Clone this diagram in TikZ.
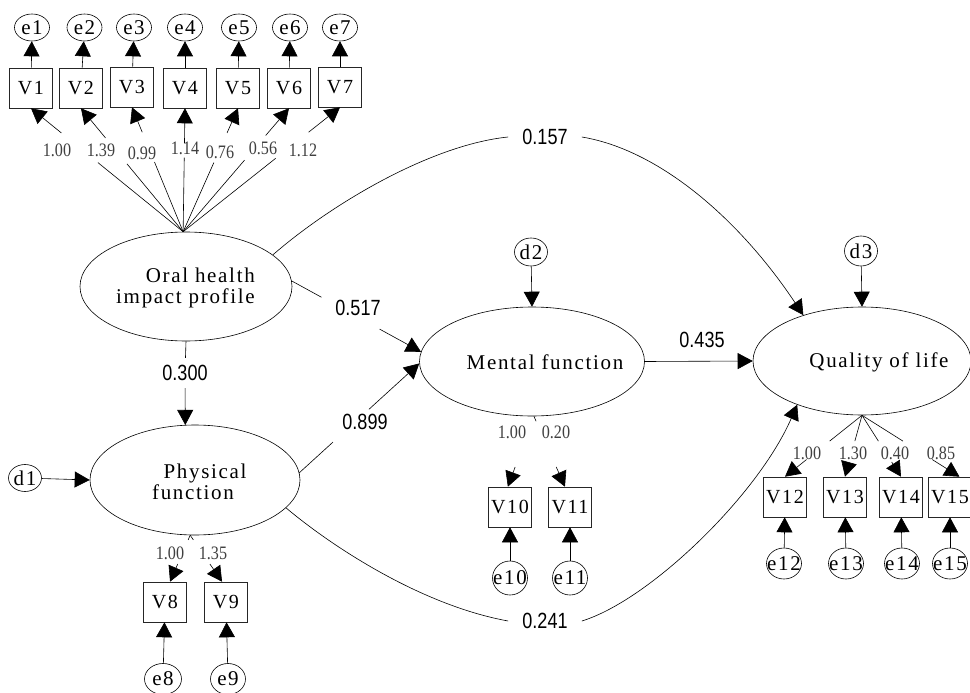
\documentclass[tikz,border=0pt]{standalone}
\usepackage{fontspec}
\setmainfont{Liberation Serif}[LetterSpace=8]
\newfontfamily\numfont{Liberation Sans}[FakeStretch=0.82]
\newfontfamily\loadfont{Liberation Serif}[FakeStretch=0.85]
\usetikzlibrary{shapes.geometric,arrows.meta,calc}
\begin{document}
\begin{tikzpicture}[x=1pt,y=-1pt,line width=0.6pt,
  arr/.style={-{Triangle[length=15pt,width=16pt]}},
  lat/.style={draw, ellipse, inner sep=0pt},
  txt/.style={font=\fontsize{21}{21}\selectfont, inner sep=0pt},
  err/.style={draw, ellipse, minimum width=35pt, minimum height=27pt, inner sep=0pt, font=\fontsize{21}{21}\selectfont},
  errb/.style={err, minimum width=35pt, minimum height=31pt},
  obs/.style={draw=black!85, rectangle, minimum width=43pt, minimum height=40pt, inner sep=0pt, font=\fontsize{20}{20}\selectfont},
  coef/.style={font=\numfont\fontsize{22}{22}\selectfont, inner sep=7pt},
  ld/.style={font=\loadfont\fontsize{19}{19}\selectfont, text=black!75, inner sep=1pt}]
\useasboundingbox (0,0) rectangle (970,693);

% ---------- latent variables ----------
\node[lat, minimum width=212pt, minimum height=109pt] (ohip) at (186,286.5) {};
\node[txt, align=right] (ohiptxt) at (185.5,288) {Oral health\\impact profile};
\node[lat, minimum width=210pt, minimum height=110pt] (phys) at (195,480) {};
\node[txt, align=center] (phystxt) at (193,482) {\hspace*{24pt}Physical\\function};
\node[lat, minimum width=225pt, minimum height=109pt] (ment) at (532,361.5) {};
\node[txt] (menttxt) at (545,362) {Mental function};
\node[lat, minimum width=218pt, minimum height=108pt] (qol) at (862,361) {};
\node[txt] (qoltxt) at (879,362) {Quality of life};

% ---------- disturbances ----------
\node[err, minimum width=33pt] (d1) at (25,478) {\makebox[0pt]{d1}};
\node[err, minimum width=33pt, minimum height=28pt] (d2) at (531,252) {\makebox[0pt]{d2}};
\node[err, minimum width=33pt, minimum height=30pt] (d3) at (861,251) {\makebox[0pt]{d3}};
\draw[arr] (d1) -- (phys.west);
\draw[arr] (d2) -- (ment.north);
\draw[arr] (d3) -- (qol.north);

% ---------- OHIP indicators ----------
\foreach \i/\x/\ex/\vy in {1/31/32/88, 2/81/84.5/88, 3/132/134/87, 4/185/185/88, 5/238/239/88, 6/289/290/88, 7/340/340/87} {
  \node[obs] (V\i) at (\x,\vy) {V\i};
  \node[err] (e\i) at (\ex,27.5) {\makebox[0pt]{e\i}};
  \draw[arr] (V\i) -- (e\i);
}
\foreach \i/\a/\b/\lx/\ly/\val in {1/0.56/0.80/57/150/1.00, 2/0.55/0.76/101/150/1.39, 3/0.56/0.80/142/153/0.99, 4/0.60/0.72/185/148/1.14, 5/0.56/0.80/220/152/0.76, 6/0.58/0.78/263/148/0.56, 7/0.59/0.80/303/150/1.12} {
  \draw (ohip.93) -- ($(ohip.93)!\a!(V\i.south)$);
  \draw[arr] ($(ohip.93)!\b!(V\i.south)$) -- (V\i.south);
  \node[ld] (l\i) at (\lx,\ly) {\val};
}

% ---------- Physical function indicators ----------
\node[obs] (V8) at (165,602) {V8};
\node[obs] (V9) at (226,602) {V9};
\node[errb, minimum width=37pt] (e8) at (163,679) {\makebox[0pt]{e8}};
\node[errb] (e9) at (228,679) {\makebox[0pt]{e9}};
\draw[arr] (e8) -- (V8);
\draw[arr] (e9) -- (V9);
\draw (phys.265) -- ($(phys.265)!0.1!(V8.76)$);
\draw[arr] ($(phys.265)!0.62!(V8.76)$) -- (V8.76);
\draw (phys.265) -- ($(phys.265)!0.1!(V9.101)$);
\draw[arr] ($(phys.265)!0.62!(V9.101)$) -- (V9.101);
\node[ld] (l8) at (170,553) {1.00};
\node[ld] (l9) at (213,553) {1.35};

% ---------- Mental function indicators ----------
\node[obs] (V10) at (510,507) {V10};
\node[obs] (V11) at (570,507) {V11};
\node[errb, minimum height=34pt] (e10) at (510,578) {\makebox[0pt]{e10}};
\node[errb, minimum height=34pt] (e11) at (570,578) {\makebox[0pt]{e11}};
\draw[arr] (e10) -- (V10);
\draw[arr] (e11) -- (V11);
\draw (ment.272) -- ($(ment.272)!0.07!(V11.104)$);
\draw[arr] ($(ment.272)!0.72!(V10.96)$) -- (V10.96);
\draw[arr] ($(ment.272)!0.72!(V11.104)$) -- (V11.104);
\node[ld] (l10) at (512,432) {1.00};
\node[ld] (l11) at (556,432) {0.20};

% ---------- Quality of life indicators ----------
\foreach \i/\x/\ex in {12/785/784, 13/845/846, 14/901/902, 15/950/950} {
  \node[obs] (V\i) at (\x,497) {V\i};
  \node[errb] (e\i) at (\ex,563.5) {\makebox[0pt]{e\i}};
  \draw[arr] (e\i) -- (V\i);
}
\foreach \i/\t/\b/\lx/\val in {12/north/0.72/807/1.00, 13/north/0.76/853/1.30, 14/north/0.76/895/0.40, 15/65/0.72/941/0.85} {
  \draw (qol.south) -- ($(qol.south)!0.42!(V\i.\t)$);
  \draw[arr] ($(qol.south)!\b!(V\i.\t)$) -- (V\i.\t);
  \node[ld] (l\i) at (\lx,453) {\val};
}

% ---------- structural paths ----------
\node[coef] (c300) at (185,373) {0.300};
\draw (ohip.south) -- (c300);
\draw[arr] (c300) -- (phys.100);

\node[coef] (c517) at (358,308) {0.517};
\draw (ohip.3.6) -- ($(ohip.3.6)!0.23!(ment.175.7)$);
\draw[arr] ($(ohip.3.6)!0.68!(ment.175.7)$) -- (ment.175.7);

\node[coef] (c899) at (365,422) {0.899};
\draw (phys.4.4) -- ($(phys.4.4)!0.28!(ment.181)$);
\draw[arr] ($(phys.4.4)!0.58!(ment.181)$) -- (ment.181);

\node[coef] (c435) at (702,340) {0.435};
\draw[arr] (ment.east) -- (qol.west);

\node[coef, inner xsep=14pt] (c157) at (545,137) {0.157};
\draw (ohip.20) .. controls (330,205) and (430,145) .. (c157.west);
\draw[arr] (c157.east) .. controls (660,150) and (740,220) .. (qol.142.5);

\node[coef, inner xsep=14pt] (c241) at (545,621) {0.241};
\draw (phys.-17) .. controls (330,545) and (420,605) .. (c241.west);
\draw[arr] (c241.east) .. controls (650,600) and (758,495) .. (qol.214);
\end{tikzpicture}
\end{document}
